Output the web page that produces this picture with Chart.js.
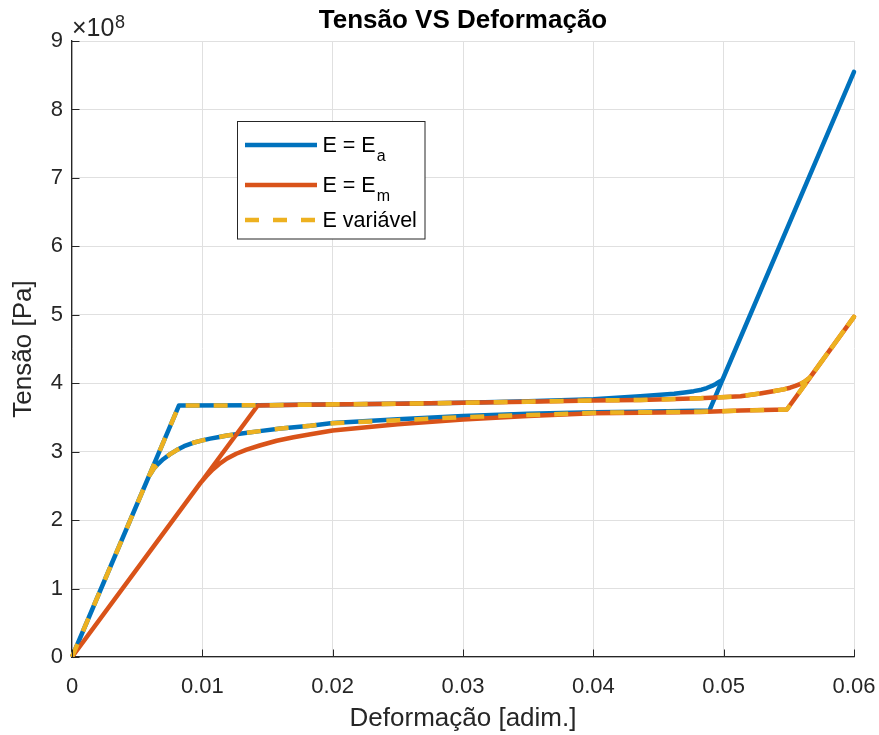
<!DOCTYPE html>
<html>
<head>
  <meta charset="utf-8" />
  <title>Tensão VS Deformação</title>
  <script src="https://cdn.jsdelivr.net/npm/chart.js"></script>
  <style>
    body { margin: 0; background: #fff; }
    #chart { display: block; }
  </style>
</head>
<body>
  <canvas id="chart" width="879" height="735"></canvas>

  <script>
    // Strain [adim.] and stress [Pa] (loading then unloading)
    const eaStrain = [0, 0.00821, 0.0143, 0.0175, 0.025, 0.03, 0.035, 0.04, 0.0436, 0.0462, 0.047, 0.0477, 0.0483, 0.0487, 0.0491, 0.0494, 0.0497, 0.0499,
      0.06, 0.0489, 0.0436, 0.04, 0.035, 0.03, 0.025, 0.02, 0.0183, 0.016, 0.0144, 0.013, 0.0119, 0.0113, 0.0106, 0.01, 0.0093, 0.0086, 0.008,
      0.0075, 0.007, 0.0066, 0.0063, 0.0061, 0.0059, 0];
    const eaStress = [0, 3.675e8, 3.677e8, 3.685e8, 3.70e8, 3.714e8, 3.735e8, 3.765e8, 3.81e8, 3.846e8, 3.865e8, 3.884e8, 3.905e8, 3.93e8, 3.96e8, 3.99e8, 4.025e8, 4.05e8,
      8.55e8, 3.60e8, 3.583e8, 3.577e8, 3.555e8, 3.52e8, 3.475e8, 3.42e8, 3.38e8, 3.34e8, 3.30e8, 3.265e8, 3.235e8, 3.215e8, 3.19e8, 3.165e8, 3.13e8, 3.08e8, 3.02e8,
      2.96e8, 2.89e8, 2.82e8, 2.76e8, 2.70e8, 2.64e8, 0];

    const emStrain = [0, 0.01425, 0.0175, 0.025, 0.03, 0.035, 0.04, 0.0436, 0.0482, 0.0513, 0.0528, 0.0538, 0.0546, 0.0551, 0.0555, 0.0559, 0.0563, 0.0566,
      0.06, 0.05485, 0.0513, 0.0482, 0.0436, 0.04, 0.035, 0.03, 0.025, 0.02, 0.0183, 0.017, 0.0157, 0.0144, 0.0134, 0.0126, 0.0119, 0.0113, 0.0108, 0.0103, 0.0098, 0];
    const emStress = [0, 3.675e8, 3.685e8, 3.70e8, 3.714e8, 3.73e8, 3.748e8, 3.755e8, 3.78e8, 3.81e8, 3.85e8, 3.884e8, 3.91e8, 3.934e8, 3.96e8, 3.99e8, 4.035e8, 4.08e8,
      4.97e8, 3.616e8, 3.60e8, 3.58e8, 3.568e8, 3.56e8, 3.52e8, 3.47e8, 3.40e8, 3.31e8, 3.255e8, 3.21e8, 3.16e8, 3.09e8, 3.03e8, 2.97e8, 2.90e8, 2.82e8, 2.74e8, 2.64e8, 2.53e8, 0];

    const evStrain = [0, 0.00821, 0.0143, 0.0175, 0.025, 0.03, 0.035, 0.04, 0.0436, 0.0482, 0.0513, 0.0528, 0.0538, 0.0546, 0.0551, 0.0555, 0.0559, 0.0563, 0.0566,
      0.06, 0.05485, 0.0513, 0.0482, 0.0436, 0.04, 0.035, 0.03, 0.025, 0.02, 0.0183, 0.016, 0.0144, 0.013, 0.0119, 0.0113, 0.0106, 0.01, 0.0093, 0.0086, 0.008,
      0.0075, 0.007, 0.0066, 0.0063, 0.0061, 0.0059, 0];
    const evStress = [0, 3.675e8, 3.677e8, 3.685e8, 3.70e8, 3.714e8, 3.73e8, 3.748e8, 3.755e8, 3.78e8, 3.81e8, 3.85e8, 3.884e8, 3.91e8, 3.934e8, 3.96e8, 3.99e8, 4.035e8, 4.08e8,
      4.97e8, 3.616e8, 3.60e8, 3.583e8, 3.575e8, 3.568e8, 3.535e8, 3.505e8, 3.46e8, 3.415e8, 3.38e8, 3.34e8, 3.30e8, 3.265e8, 3.235e8, 3.215e8, 3.19e8, 3.165e8, 3.13e8, 3.08e8, 3.02e8,
      2.96e8, 2.89e8, 2.82e8, 2.76e8, 2.70e8, 2.64e8, 0];

    const seriesLabels = ['E = E_a', 'E = E_m', 'E variável'];
    const seriesColors = ['#0072BD', '#D95319', '#EDB120'];

    const xTicks = [0, 0.01, 0.02, 0.03, 0.04, 0.05, 0.06];
    const yTicks = [0, 1e8, 2e8, 3e8, 4e8, 5e8, 6e8, 7e8, 8e8, 9e8];

    const FONT = "'Liberation Sans', Arial, Helvetica, sans-serif";
    const AXIS = '#262626';

    function toPoints(xs, ys) {
      return xs.map((x, i) => ({ x: x, y: ys[i] }));
    }

    // MATLAB style ticks pointing inside the axes
    const innerTicks = {
      id: 'innerTicks',
      afterDatasetsDraw(chart) {
        const { ctx, chartArea, scales } = chart;
        ctx.save();
        ctx.strokeStyle = AXIS;
        ctx.lineWidth = 1;
        ctx.beginPath();
        xTicks.forEach(v => {
          const px = Math.round(scales.x.getPixelForValue(v)) + 0.5;
          ctx.moveTo(px, chartArea.bottom);
          ctx.lineTo(px, chartArea.bottom - 7.5);
        });
        yTicks.forEach(v => {
          const py = Math.round(scales.y.getPixelForValue(v)) + 0.5;
          ctx.moveTo(chartArea.left, py);
          ctx.lineTo(chartArea.left + 7.5, py);
        });
        ctx.stroke();

        // the x10^8 multiplier above the y axis
        ctx.fillStyle = AXIS;
        ctx.textBaseline = 'alphabetic';
        ctx.textAlign = 'left';
        ctx.font = '25px ' + FONT;
        const base = '\u00d710';
        ctx.fillText(base, chartArea.left, 36);
        const w = ctx.measureText(base).width;
        ctx.font = '18px ' + FONT;
        ctx.fillText('8', chartArea.left + w + 0.5, 27.5);
        ctx.restore();
      }
    };

    // legend box with subscripts, drawn inside the plot
    const boxLegend = {
      id: 'boxLegend',
      afterDraw(chart) {
        const { ctx, chartArea } = chart;
        const left = chartArea.left + 165.5;
        const top = chartArea.top + 80.5;
        const rows = [23.5, 63.5, 98.5];
        ctx.save();
        ctx.fillStyle = '#fff';
        ctx.fillRect(left, top, 187.5, 117.5);
        ctx.strokeStyle = AXIS;
        ctx.lineWidth = 1;
        ctx.strokeRect(left, top, 187.5, 117.5);

        chart.data.datasets.forEach((ds, i) => {
          const y = top + rows[i];
          ctx.strokeStyle = ds.borderColor;
          ctx.lineWidth = 4.5;
          ctx.setLineDash(ds.borderDash || []);
          ctx.beginPath();
          ctx.moveTo(left + 7.5, y);
          ctx.lineTo(left + 79.5, y);
          ctx.stroke();
          ctx.setLineDash([]);

          const parts = ds.label.split('_');
          ctx.fillStyle = '#000';
          ctx.textAlign = 'left';
          ctx.textBaseline = 'alphabetic';
          ctx.font = '21.5px ' + FONT;
          ctx.fillText(parts[0], left + 85, y + 7);
          if (parts[1]) {
            const w = ctx.measureText(parts[0]).width;
            ctx.font = '16px ' + FONT;
            ctx.fillText(parts[1], left + 86 + w, y + 16);
          }
        });
        ctx.restore();
      }
    };

    // order: the dashed curve on top, then Em, then Ea underneath
    const datasets = [
      { label: seriesLabels[0], data: toPoints(eaStrain, eaStress), borderColor: seriesColors[0], order: 3 },
      { label: seriesLabels[1], data: toPoints(emStrain, emStress), borderColor: seriesColors[1], order: 2 },
      { label: seriesLabels[2], data: toPoints(evStrain, evStress), borderColor: seriesColors[2], borderDash: [14, 14], order: 1 }
    ].map(ds => Object.assign({
      showLine: true,
      fill: false,
      borderWidth: 4.5,
      pointRadius: 0,
      tension: 0,
      borderJoinStyle: 'round',
      clip: false
    }, ds));

    Chart.defaults.font.family = FONT;

    const ctx = document.getElementById('chart').getContext('2d');
    new Chart(ctx, {
      type: 'scatter',
      data: { datasets: datasets },
      plugins: [innerTicks, boxLegend],
      options: {
        responsive: false,
        animation: false,
        devicePixelRatio: 1,
        layout: { padding: { left: 0, right: 25, top: 0, bottom: 0 } },
        plugins: {
          legend: { display: false },
          tooltip: { enabled: false },
          title: {
            display: true,
            text: 'Tensão VS Deformação',
            color: '#000',
            fullSize: false,
            font: { size: 26, weight: 'bold' },
            padding: { top: 5, bottom: 4.8 }
          }
        },
        scales: {
          x: {
            type: 'linear',
            min: 0,
            max: 0.06,
            afterBuildTicks: scale => { scale.ticks = xTicks.map(v => ({ value: v })); },
            afterFit: scale => {
              scale.height = 78;
              scale.paddingLeft = 0;
              scale.paddingRight = 0;
            },
            ticks: {
              color: AXIS,
              font: { size: 22 },
              padding: 17,
              maxRotation: 0,
              callback: v => (v === 0 ? '0' : Number(v).toFixed(2))
            },
            grid: { color: '#e0e0e0', lineWidth: 1, drawTicks: false },
            border: { color: AXIS, width: 1.3 },
            title: {
              display: true,
              text: 'Deformação [adim.]',
              color: AXIS,
              font: { size: 26 },
              padding: { top: 0, bottom: 1 }
            }
          },
          y: {
            type: 'linear',
            min: 0,
            max: 9e8,
            afterBuildTicks: scale => { scale.ticks = yTicks.map(v => ({ value: v })); },
            afterFit: scale => { scale.width = 72; },
            ticks: {
              color: AXIS,
              font: { size: 22 },
              padding: 9,
              callback: v => String(Math.round(v / 1e8))
            },
            grid: { color: '#e0e0e0', lineWidth: 1, drawTicks: false },
            border: { color: AXIS, width: 1.3 },
            title: {
              display: true,
              text: 'Tensão [Pa]',
              color: AXIS,
              font: { size: 26 },
              padding: { top: 8, bottom: 0 }
            }
          }
        }
      }
    });
  </script>
</body>
</html>
